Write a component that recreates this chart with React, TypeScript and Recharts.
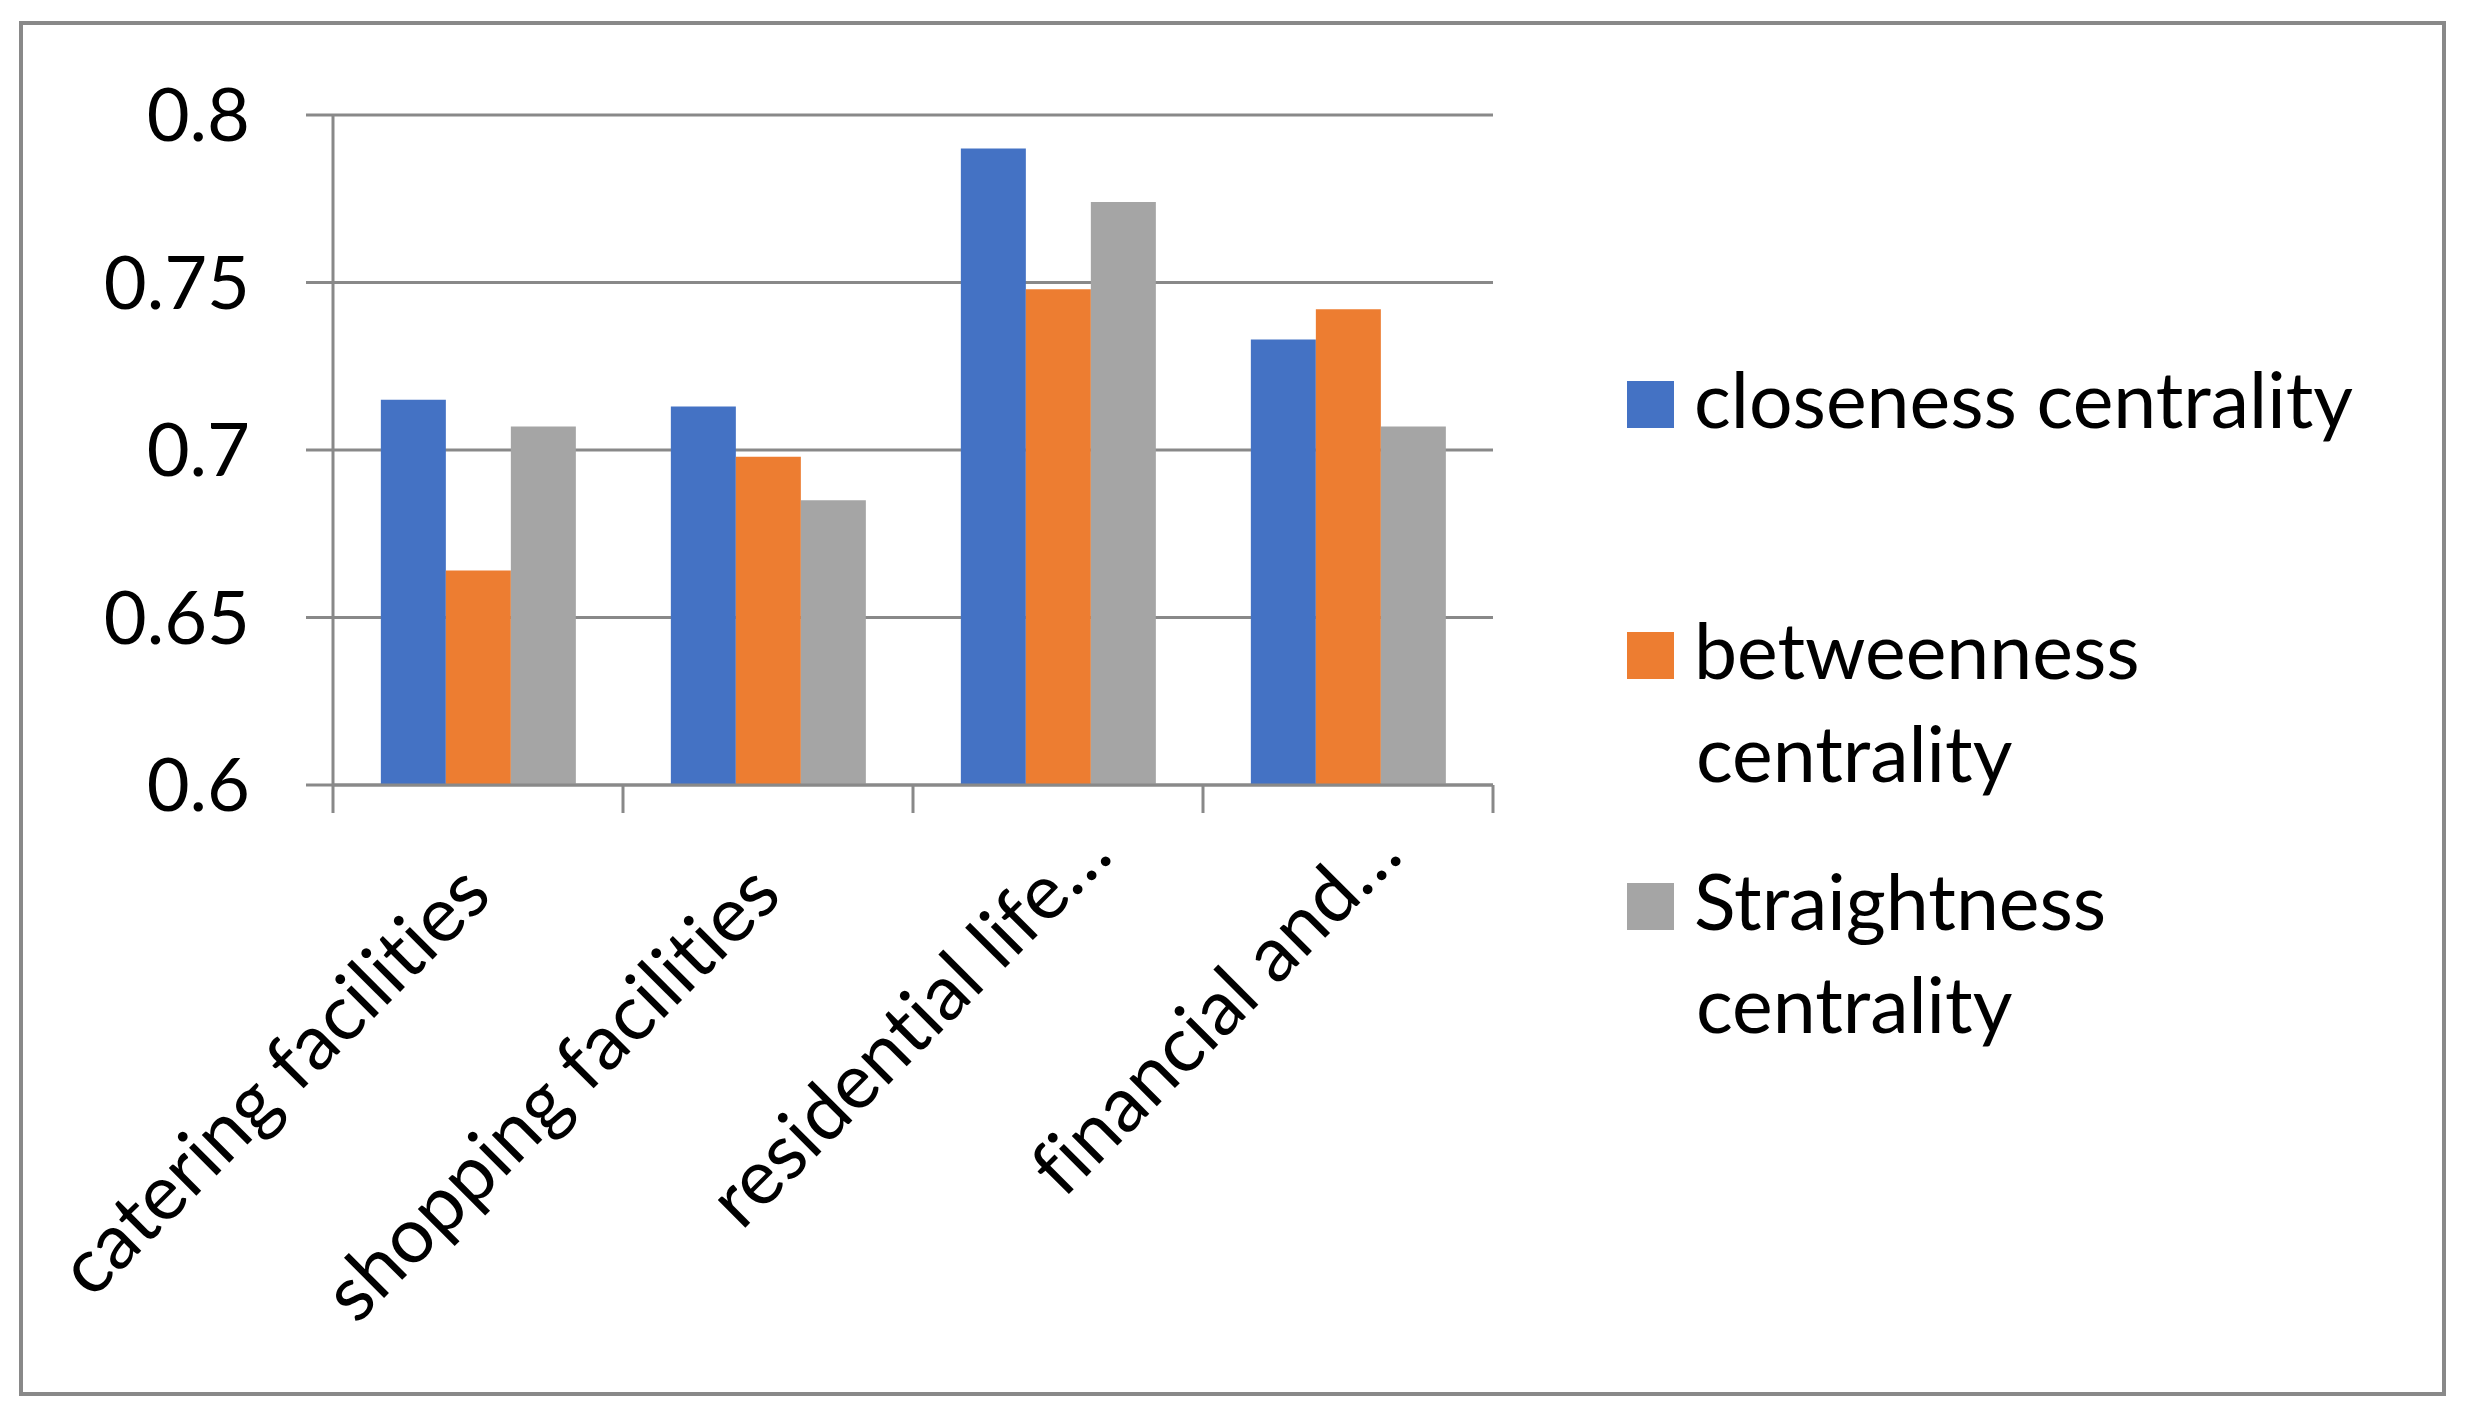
import React from "react";
import { BarChart, Bar, XAxis, YAxis, CartesianGrid, Legend } from "recharts";

// ---------------------------------------------------------------------------
// Data
// ---------------------------------------------------------------------------

const categories = [
  "catering facilities",
  "shopping facilities",
  "residential life…",
  "financial and…",
];

const closeness = [0.715, 0.713, 0.79, 0.733];
const betweenness = [0.664, 0.698, 0.748, 0.742];
const straightness = [0.707, 0.685, 0.774, 0.707];

const yTicks = [0.6, 0.65, 0.7, 0.75, 0.8];

const seriesNames = [
  "closeness centrality",
  "betweenness centrality",
  "Straightness centrality",
];

// legend lines as wrapped in the original
const legendLines = [
  ["closeness centrality"],
  ["betweenness", "centrality"],
  ["Straightness", "centrality"],
];

// ---------------------------------------------------------------------------
// Style
// ---------------------------------------------------------------------------

const COLORS = ["#4472C4", "#ED7D31", "#A5A5A5"];
const GRID = "#898989";
const FONT = "Lato, 'Open Sans', sans-serif";
const FS = 74; // y tick labels
const FS_CAT = 77; // rotated category labels
const FS_LEG = 77; // legend

const W = 2465;
const H = 1413;
const PLOT_LEFT = 333;
const PLOT_RIGHT = 1493;
const PLOT_TOP = 115;
const AXIS_Y = 785;
const Y_AXIS_W = 250;
const BAND = (PLOT_RIGHT - PLOT_LEFT) / categories.length;

const data = categories.map((name, i) => ({
  name,
  closeness: closeness[i],
  betweenness: betweenness[i],
  straightness: straightness[i],
}));

const keys = ["closeness", "betweenness", "straightness"];

// ---------------------------------------------------------------------------
// Category tick: boundary tick marks + rotated label
// ---------------------------------------------------------------------------

function CategoryTick(props: any) {
  const { x, payload, index } = props;
  const half = BAND / 2;
  const truncated = String(payload.value).endsWith("…");
  const ax = x + (truncated ? 57 : 16);
  const ay = AXIS_Y + (truncated ? 73 : 113);
  return (
    <g>
      <line x1={x - half} x2={x - half} y1={AXIS_Y} y2={AXIS_Y + 28} stroke={GRID} strokeWidth={3} />
      {index === categories.length - 1 && (
        <line x1={x + half} x2={x + half} y1={AXIS_Y} y2={AXIS_Y + 28} stroke={GRID} strokeWidth={3} />
      )}
      <text
        transform={`translate(${ax},${ay}) rotate(-45)`}
        textAnchor="end"
        fontSize={FS_CAT}
        fontFamily={FONT}
        fill="#000"
        style={{ fontVariantLigatures: "none" }}
      >
        {payload.value}
      </text>
    </g>
  );
}

// ---------------------------------------------------------------------------
// Legend
// ---------------------------------------------------------------------------

function LegendContent() {
  return (
    <div
      style={{
        fontFamily: FONT,
        fontSize: FS_LEG,
        lineHeight: "103px",
        color: "#000",
        fontVariantLigatures: "none",
      }}
    >
      {seriesNames.map((name, i) => (
        <div key={name} style={{ height: 251 }}>
          {legendLines[i].map((line, j) => (
            <div key={j} style={{ paddingLeft: j ? 69 : 0, whiteSpace: "nowrap" }}>
              {j === 0 && (
                <span
                  style={{
                    display: "inline-block",
                    width: 47,
                    height: 47,
                    background: COLORS[i],
                    marginRight: 20,
                  }}
                />
              )}
              {line}
            </div>
          ))}
        </div>
      ))}
    </div>
  );
}

// ---------------------------------------------------------------------------
// Component
// ---------------------------------------------------------------------------

export default function App() {
  return (
    <div
      style={{
        position: "absolute",
        left: 0,
        top: 0,
        width: W,
        height: H,
        background: "#fff",
        fontFamily: FONT,
      }}
    >
      <div
        style={{
          position: "absolute",
          left: 19,
          top: 21,
          width: 2442 - 19 - 4,
          height: 1392 - 21 - 4,
          border: `4px solid ${GRID}`,
        }}
      />
      <div style={{ position: "absolute", left: 0, top: 0 }}>
        <BarChart
          width={W}
          height={H}
          data={data}
          margin={{ top: PLOT_TOP, right: W - PLOT_RIGHT, bottom: 20, left: PLOT_LEFT - Y_AXIS_W }}
          barCategoryGap="16.5%"
          barGap={0}
        >
          <CartesianGrid vertical={false} stroke={GRID} strokeWidth={3} />
          <XAxis
            dataKey="name"
            interval={0}
            height={H - AXIS_Y - 20}
            axisLine={{ stroke: GRID, strokeWidth: 3 }}
            tickLine={false}
            tick={<CategoryTick />}
          />
          <YAxis
            width={Y_AXIS_W}
            domain={[0.6, 0.8]}
            ticks={yTicks}
            interval={0}
            axisLine={{ stroke: GRID, strokeWidth: 3 }}
            tickLine={{ stroke: GRID, strokeWidth: 3 }}
            tickSize={27}
            tickMargin={56}
            tick={{ fontSize: FS, fontFamily: FONT, fill: "#000" }}
          />
          {keys.map((k, i) => (
            <Bar key={k} dataKey={k} name={seriesNames[i]} fill={COLORS[i]} isAnimationActive={false} />
          ))}
          <Legend
            layout="horizontal"
            verticalAlign="middle"
            align="center"
            content={<LegendContent />}
            wrapperStyle={{ position: "absolute", left: 1627, top: 347, width: 800, height: "auto" }}
          />
        </BarChart>
      </div>
    </div>
  );
}
